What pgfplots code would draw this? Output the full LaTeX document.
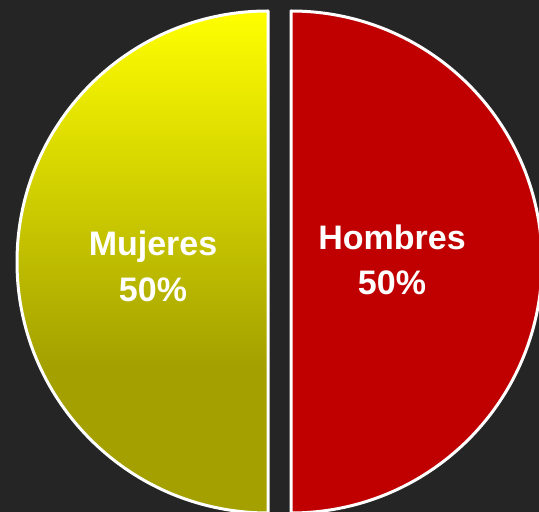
\documentclass[border=0pt]{standalone}
\usepackage{pgfplots}
\usepackage{pgfplotstable}
\pgfplotsset{compat=1.18}
\usepackage{fontspec}
\setmainfont{Liberation Sans}
\definecolor{bg}{HTML}{252525}
\definecolor{hred}{HTML}{C00000}
\definecolor{ytop}{HTML}{FFFF00}
\definecolor{ybot}{HTML}{A3A000}
\pgfdeclareverticalshading{yel}{100bp}{color(0bp)=(ybot); color(39.5bp)=(ybot); color(75bp)=(ytop); color(100bp)=(ytop)}

\pgfplotstableread{
slice value cx
Mujeres 50 268
Hombres 50 291
}\piedata

\begin{document}
\begin{tikzpicture}
\pgfplotstablegetelem{0}{value}\of\piedata \edef\vM{\pgfplotsretval}
\pgfplotstablegetelem{1}{value}\of\piedata \edef\vH{\pgfplotsretval}
\pgfplotstablegetelem{0}{cx}\of\piedata \edef\cM{\pgfplotsretval}
\pgfplotstablegetelem{1}{cx}\of\piedata \edef\cH{\pgfplotsretval}
\pgfmathsetmacro\angM{360*(\vM/(\vM+\vH))}
\pgfmathsetmacro\angH{360*(\vH/(\vM+\vH))}
\begin{axis}[
  x=1pt, y=1pt,
  xmin=0, xmax=539, ymin=0, ymax=512,
  hide axis,
  clip=true,
  /pgf/number format/assume math mode=true,
]
\fill[bg] (axis cs:0,0) rectangle (axis cs:539,512);
% Mujeres slice (left)
\path[shading=yel, draw=white, line width=3pt, line join=round]
  (axis cs:\cM,250) -- ++(90:251pt) arc[start angle=90, delta angle=\angM, radius=251pt] -- cycle;
% Hombres slice (right)
\path[fill=hred, draw=white, line width=3pt, line join=round]
  (axis cs:\cH,250) -- ++(90:251pt) arc[start angle=90, delta angle=-\angH, radius=251pt] -- cycle;
\node[anchor=base, text=white, font=\fontsize{34}{40}\selectfont\bfseries] at (axis cs:153,256) {Mujeres};
\node[anchor=base, text=white, font=\fontsize{34}{40}\selectfont\bfseries] at (axis cs:153,210) {\pgfmathprintnumber[assume math mode=true]{\vM}\%};
\node[anchor=base, text=white, font=\fontsize{34}{40}\selectfont\bfseries] at (axis cs:392,262) {Hombres};
\node[anchor=base, text=white, font=\fontsize{34}{40}\selectfont\bfseries] at (axis cs:392,217) {\pgfmathprintnumber[assume math mode=true]{\vH}\%};
\end{axis}
\pgfresetboundingbox
\useasboundingbox (current axis.south west) rectangle (current axis.north east);
\end{tikzpicture}
\end{document}
